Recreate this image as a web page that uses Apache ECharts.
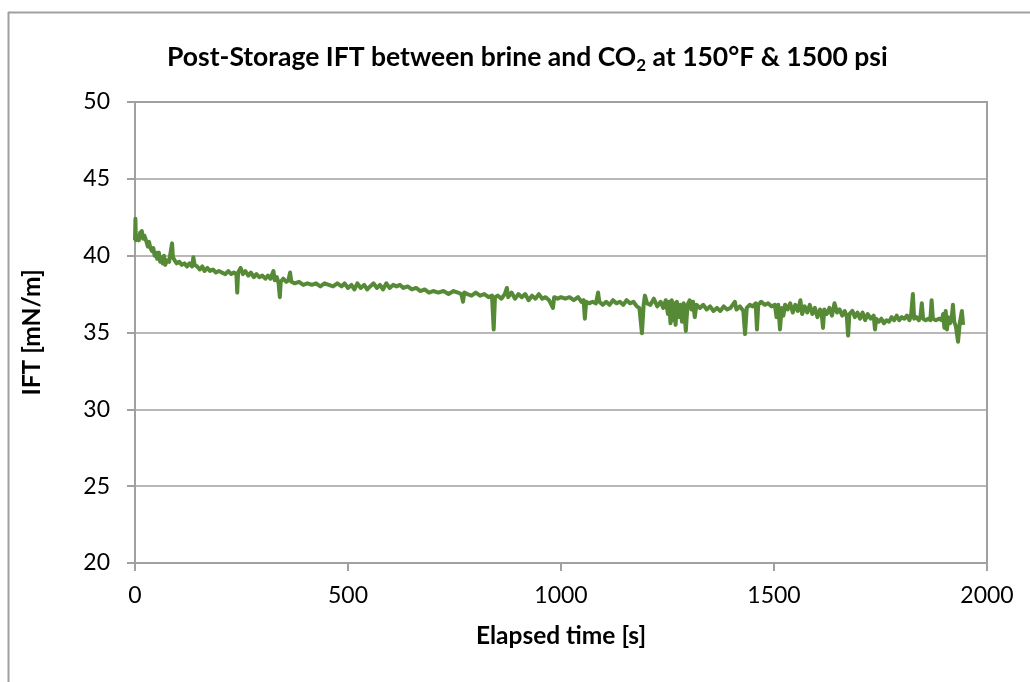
<!DOCTYPE html>
<html>
<head>
<meta charset="utf-8">
<script src="https://cdn.jsdelivr.net/npm/echarts@6/dist/echarts.min.js"></script>
<style>
  html, body { margin: 0; padding: 0; background: #fff; }
  #app { width: 1030px; height: 682px; }
</style>
</head>
<body>
<div id="app"></div>
<script>
// elapsed time [s] and IFT [mN/m]
const timeS = [
  0, 1, 2, 5, 9, 12, 14, 16, 19, 22, 27, 30, 33, 36, 40, 43, 46, 49, 52, 56,
  59, 62, 65, 68, 71, 75, 80, 84, 87, 89, 93, 98, 104, 110, 116, 122, 128, 134, 137, 140,
  146, 152, 158, 163, 170, 176, 183, 190, 197, 204, 212, 219, 226, 232, 238, 240, 242, 248, 253, 259,
  266, 272, 279, 285, 292, 299, 306, 312, 318, 325, 328, 333, 337, 340, 342, 348, 355, 360, 364, 367,
  375, 385, 395, 405, 415, 425, 435, 445, 455, 465, 475, 485, 492, 500, 508, 515, 522, 530, 538, 545,
  552, 560, 568, 575, 582, 590, 598, 606, 614, 622, 630, 640, 650, 660, 670, 680, 690, 700, 712, 724,
  736, 748, 758, 766, 770, 773, 780, 790, 800, 810, 820, 830, 838, 842, 845, 852, 860, 868, 873, 876,
  884, 892, 900, 908, 916, 924, 932, 940, 948, 956, 964, 972, 981, 984, 992, 1000, 1010, 1020, 1030, 1040,
  1048, 1053, 1056, 1059, 1066, 1074, 1082, 1087, 1090, 1098, 1106, 1114, 1122, 1130, 1138, 1146, 1154, 1162, 1170, 1178,
  1184, 1190, 1194, 1197, 1202, 1210, 1218, 1226, 1234, 1240, 1246, 1251, 1254, 1257, 1260, 1263, 1266, 1269, 1272, 1276,
  1280, 1284, 1288, 1293, 1297, 1302, 1306, 1310, 1314, 1318, 1326, 1334, 1342, 1350, 1358, 1366, 1374, 1382, 1390, 1398,
  1408, 1412, 1420, 1428, 1432, 1436, 1443, 1450, 1457, 1460, 1463, 1470, 1478, 1486, 1494, 1502, 1506, 1510, 1514, 1518,
  1522, 1526, 1532, 1538, 1544, 1550, 1556, 1562, 1566, 1572, 1578, 1584, 1590, 1596, 1602, 1608, 1612, 1615, 1618, 1624,
  1630, 1636, 1642, 1648, 1654, 1660, 1666, 1671, 1674, 1677, 1684, 1690, 1696, 1702, 1708, 1714, 1720, 1727, 1734, 1737,
  1740, 1746, 1752, 1758, 1764, 1770, 1776, 1782, 1788, 1794, 1800, 1806, 1812, 1818, 1822, 1826, 1829, 1834, 1840, 1844,
  1847, 1850, 1856, 1862, 1867, 1870, 1873, 1880, 1888, 1894, 1897, 1900, 1903, 1906, 1909, 1913, 1917, 1920, 1923, 1927,
  1932, 1936, 1941, 1944
];
const iftMNm = [
  41.0, 42.4, 41.0, 41.2, 41.0, 41.5, 41.2, 41.6, 41.1, 41.3, 40.9, 40.6, 40.9, 40.5, 40.3, 40.5, 40.0, 40.2, 39.8, 40.2,
  39.6, 39.9, 39.5, 40.0, 39.4, 39.7, 39.6, 39.7, 40.8, 39.9, 39.7, 39.5, 39.6, 39.4, 39.5, 39.3, 39.5, 39.3, 39.9, 39.4,
  39.3, 39.1, 39.3, 39.0, 39.2, 39.0, 39.1, 38.9, 39.0, 38.9, 38.8, 39.0, 38.8, 38.9, 38.8, 37.6, 38.9, 39.2, 38.8, 39.0,
  38.7, 38.9, 38.6, 38.8, 38.6, 38.7, 38.5, 38.7, 38.5, 39.0, 38.4, 38.6, 38.2, 37.3, 38.3, 38.5, 38.3, 38.4, 38.9, 38.3,
  38.2, 38.3, 38.1, 38.2, 38.1, 38.2, 38.0, 38.2, 38.1, 38.0, 38.2, 38.0, 38.2, 37.9, 38.1, 37.8, 38.2, 37.9, 38.1, 37.8,
  38.0, 38.2, 37.9, 38.1, 37.8, 38.2, 37.9, 38.1, 38.0, 38.1, 37.9, 38.0, 37.8, 37.9, 37.7, 37.8, 37.6, 37.7, 37.6, 37.7,
  37.5, 37.7, 37.6, 37.5, 37.0, 37.6, 37.5, 37.4, 37.6, 37.4, 37.5, 37.3, 37.4, 35.2, 37.3, 37.4, 37.2, 37.5, 37.9, 37.3,
  37.6, 37.2, 37.5, 37.3, 37.5, 37.1, 37.4, 37.2, 37.5, 37.2, 37.3, 37.1, 36.6, 37.3, 37.2, 37.3, 37.2, 37.3, 37.1, 37.3,
  37.0, 37.1, 35.9, 37.0, 36.9, 37.0, 36.9, 37.6, 37.0, 36.8, 37.0, 36.8, 37.1, 36.9, 37.0, 36.8, 37.1, 36.9, 37.0, 36.7,
  36.6, 34.95, 36.8, 37.4, 36.9, 36.8, 37.2, 36.7, 37.0, 36.6, 37.1, 36.2, 37.0, 35.6, 37.1, 35.8, 36.9, 35.5, 37.0, 36.0,
  36.8, 35.7, 36.9, 35.1, 36.8, 37.1, 36.5, 37.0, 36.0, 36.8, 36.6, 36.8, 36.5, 36.7, 36.4, 36.6, 36.4, 36.7, 36.5, 36.6,
  37.0, 36.5, 36.7, 36.4, 34.9, 36.6, 36.8, 36.7, 36.9, 35.2, 36.8, 37.0, 36.8, 36.9, 36.7, 36.8, 36.0, 36.8, 35.2, 36.6,
  36.1, 36.8, 36.5, 36.9, 36.3, 36.8, 36.4, 37.1, 36.2, 36.7, 36.3, 36.8, 36.2, 36.6, 36.0, 36.5, 36.2, 35.3, 36.5, 36.2,
  36.6, 36.1, 36.9, 36.3, 36.5, 36.1, 36.4, 36.0, 34.8, 36.2, 36.4, 36.0, 36.3, 35.9, 36.3, 35.8, 36.2, 35.9, 36.1, 35.2,
  35.9, 35.7, 35.9, 35.6, 35.8, 35.7, 36.0, 35.8, 36.1, 35.8, 36.0, 35.9, 36.1, 35.8, 36.2, 37.5, 35.9, 36.0, 35.8, 36.1,
  36.9, 35.9, 35.8, 35.9, 35.8, 37.1, 35.9, 35.8, 35.9, 35.8, 36.2, 35.3, 36.4, 35.2, 36.0, 35.6, 35.9, 36.8, 35.7, 35.4,
  34.4, 35.6, 36.4, 35.5
];
const xTicks = [0, 2000, 500];  // min, max, step
const yTicks = [20, 50, 5];

const points = timeS.map((t, i) => [t, iftMNm[i]]);

const FONT = 'Lato, "Noto Sans", sans-serif';
const GRAY = '#a0a0a0';

const chart = echarts.init(document.getElementById('app'));

chart.setOption({
  animation: false,
  backgroundColor: '#fff',
  title: {
    text: '{b|Post-Storage IFT between brine and CO}{s|2}{b| at 150°F & 1500 psi}',
    left: 162,
    top: 36,
    textStyle: {
      rich: {
        b: { fontFamily: FONT, fontSize: 26.5, fontWeight: 'bold', color: '#000' },
        s: { fontFamily: FONT, fontSize: 17, fontWeight: 'bold', color: '#000', padding: [16, 0, 0, 0] }
      }
    }
  },
  graphic: [
    { type: 'line', shape: { x1: 8, y1: 12.5, x2: 1030, y2: 12.5 }, style: { stroke: GRAY, lineWidth: 2 } },
    { type: 'line', shape: { x1: 8.5, y1: 12, x2: 8.5, y2: 682 }, style: { stroke: GRAY, lineWidth: 2 } }
  ],
  grid: {
    left: 135,
    right: 43,
    top: 102,
    bottom: 119,
    show: true,
    borderColor: GRAY,
    borderWidth: 2
  },
  xAxis: {
    type: 'value',
    min: xTicks[0],
    max: xTicks[1],
    interval: xTicks[2],
    name: 'Elapsed time [s]',
    nameLocation: 'middle',
    nameGap: 61,
    nameTextStyle: { fontFamily: FONT, fontSize: 24.5, fontWeight: 'bold', color: '#000' },
    axisLine: { lineStyle: { color: GRAY, width: 2 } },
    axisTick: { inside: false, length: 8, lineStyle: { color: GRAY, width: 2 } },
    axisLabel: { margin: 21, fontFamily: FONT, fontSize: 23, color: '#000', formatter: v => String(v) },
    splitLine: { show: false }
  },
  yAxis: {
    type: 'value',
    min: yTicks[0],
    max: yTicks[1],
    interval: yTicks[2],
    name: 'IFT [mN/m]',
    nameLocation: 'middle',
    nameRotate: 90,
    nameGap: 90,
    nameTextStyle: { fontFamily: FONT, fontSize: 24.5, fontWeight: 'bold', color: '#000' },
    axisLine: { show: true, lineStyle: { color: GRAY, width: 2 } },
    axisTick: { show: true, inside: false, length: 8, lineStyle: { color: GRAY, width: 2 } },
    axisLabel: { margin: 25, fontFamily: FONT, fontSize: 23, color: '#000' },
    splitLine: { show: true, lineStyle: { color: GRAY, width: 1.5 } }
  },
  series: [
    {
      type: 'line',
      data: points,
      showSymbol: false,
      lineStyle: { color: '#568a36', width: 4, join: 'round' },
      itemStyle: { color: '#568a36' }
    }
  ]
});
</script>
</body>
</html>
